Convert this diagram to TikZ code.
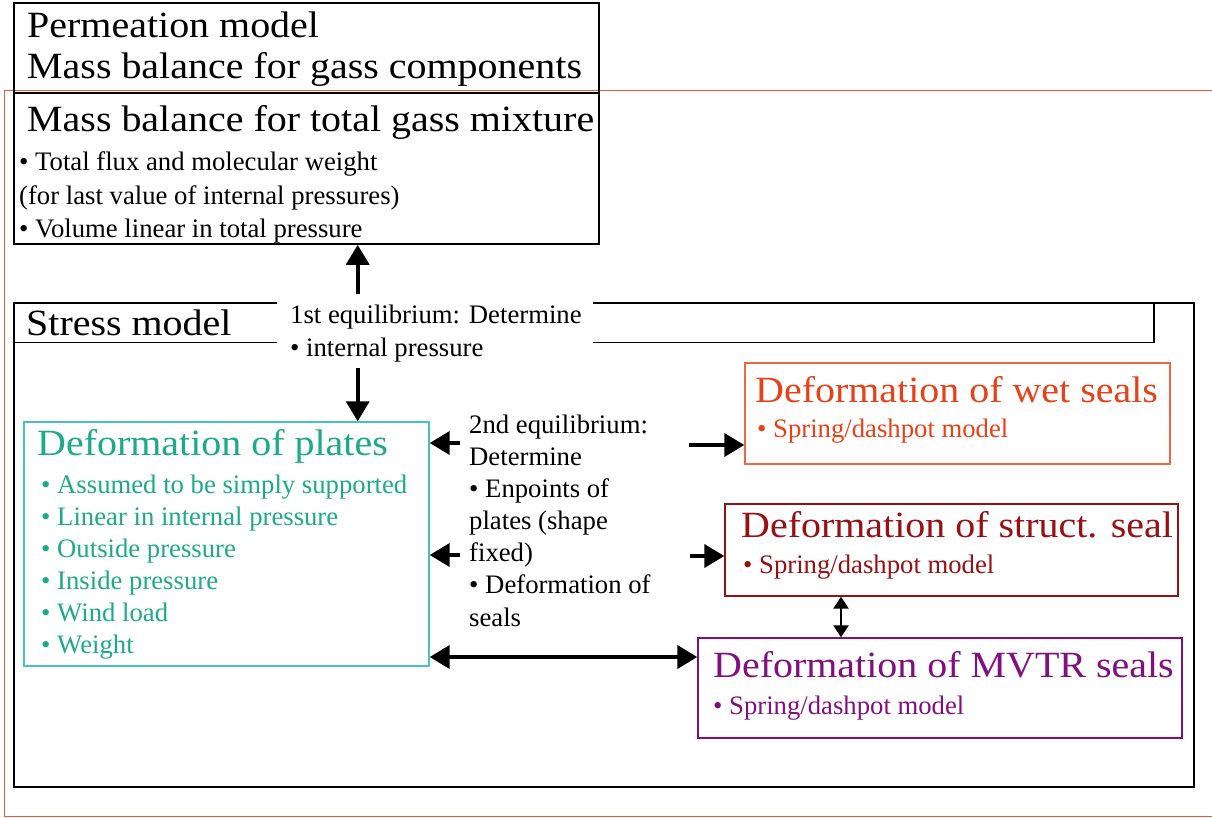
\documentclass[tikz,border=0pt]{standalone}
\usepackage{fontspec}
\setmainfont{Liberation Serif}
\newfontfamily\headfam{Liberation Serif}[FakeStretch=1.08]
\usetikzlibrary{arrows.meta,calc,fit}

\definecolor{plategreen}{RGB}{28,170,136}
\definecolor{plateedge}{RGB}{70,196,176}
\definecolor{wetred}{RGB}{232,64,24}
\definecolor{wetedge}{RGB}{236,104,64}
\definecolor{structred}{RGB}{150,16,20}
\definecolor{mvtrpurple}{RGB}{128,16,128}
\definecolor{frameorange}{RGB}{228,92,62}

\tikzset{
  panel/.style={draw, line width=1.7pt, inner sep=0pt},
  subpanel/.style={draw, line width=1.4pt, inner sep=0pt},
  headline/.style={anchor=base west, inner sep=0pt, font=\headfam\fontsize{37}{40}\selectfont},
  bodyline/.style={anchor=base west, inner sep=0pt, font=\fontsize{26.7}{32}\selectfont},
  bigarrow/.style={line width=3.8pt, -{Triangle[length=20pt,width=23pt]}},
  bothways/.style={line width=3.8pt, {Triangle[length=20pt,width=23pt]}-{Triangle[length=20pt,width=23pt]}},
  smallboth/.style={line width=2.6pt, {Triangle[length=12pt,width=15pt]}-{Triangle[length=12pt,width=15pt]}},
}

\begin{document}
\begin{tikzpicture}[x=1pt,y=-1pt]
\useasboundingbox (0,0) rectangle (1212,817);

% open orange frame around the whole model
\draw[frameorange, line width=1.4pt] (1214,90.5) -- (4.5,90.5) -- (4.5,816.2) -- (1214,816.2);

% permeation model
\node[panel, fit={(14,3) (599,244)}] (top) {};
\draw[line width=1.4pt] (top.west |- 0,93) -- (top.east |- 0,93);
\node[headline] (t1) at (27,37) {Permeation model};
\node[headline] (t2) at (27,78) {Mass balance for gass components};
\node[headline] (t3) at (27,131) {Mass balance for total gass mixture};
\node[bodyline] (t4) at (19,170) {• Total flux and molecular weight};
\node[bodyline] (t5) at (19,204) {(for last value of internal pressures)};
\node[bodyline] (t6) at (19,237) {• Volume linear in total pressure};

% stress model frame and its header strip
\node[panel, fit={(14,302.7) (1194,787.3)}] (stress) {};
\node[panel, fit={(14,302.7) (1154,342.5)}] (header) {};
\node[headline] (sm) at (26,335) {Stress model};

% first equilibrium label, cut into the header lines
\node[fill=white, inner sep=0pt, fit={(277,294) (593,368)}] (eq1) {};
\node[bodyline] (e1a) at (290,323) {1st equilibrium: Determine};
\node[bodyline] (e1b) at (290,356) {• internal pressure};

% deformation of plates
\node[subpanel, draw=plateedge, fit={(24,422) (429,666)}] (plates) {};
\node[headline, text=plategreen] (p0) at (37,455) {Deformation of plates};
\node[bodyline, text=plategreen] (p1) at (41,493) {• Assumed to be simply supported};
\node[bodyline, text=plategreen] (p2) at (41,525) {• Linear in internal pressure};
\node[bodyline, text=plategreen] (p3) at (41,557) {• Outside pressure};
\node[bodyline, text=plategreen] (p4) at (41,589) {• Inside pressure};
\node[bodyline, text=plategreen] (p5) at (41,621) {• Wind load};
\node[bodyline, text=plategreen] (p6) at (41,653) {• Weight};

% second equilibrium text
\node[bodyline] (q1) at (469,433) {2nd equilibrium:};
\node[bodyline] (q2) at (469,465) {Determine};
\node[bodyline] (q3) at (469,497) {• Enpoints of};
\node[bodyline] (q4) at (469,529) {plates (shape};
\node[bodyline] (q5) at (469,561) {fixed)};
\node[bodyline] (q6) at (469,593) {• Deformation of};
\node[bodyline] (q7) at (469,626) {seals};

% seal models
\node[subpanel, draw=wetedge, fit={(745,363) (1170,464)}] (wet) {};
\node[headline, text=wetred] (w0) at (755,402) {Deformation of wet seals};
\node[bodyline, text=wetred] (w1) at (757,437) {• Spring/dashpot model};

\node[subpanel, draw=structred, fit={(725,504) (1178,596)}] (struct) {};
\node[headline, text=structred] (s0) at (741,537) {Deformation of struct. seal};
\node[bodyline, text=structred] (s1) at (743,573) {• Spring/dashpot model};

\node[subpanel, draw=mvtrpurple, fit={(698,638) (1182,738)}] (mvtr) {};
\node[headline, text=mvtrpurple] (m0) at (713,677) {Deformation of MVTR seals};
\node[bodyline, text=mvtrpurple] (m1) at (713,714) {• Spring/dashpot model};

% connectors
\coordinate (upfoot) at (357.7,294);
\coordinate (downfoot) at (357.7,368);
\coordinate (eqA) at (460,443);
\coordinate (eqB) at (460,555);
\coordinate (eqC) at (689,445);
\coordinate (eqD) at (690,556);
\coordinate (link) at (0,657);
\coordinate (sealx) at (841,0);

\draw[bigarrow] (upfoot) -- (upfoot |- top.south);
\draw[bigarrow] (downfoot) -- (downfoot |- plates.north);
\draw[bigarrow] (eqA) -- (eqA -| plates.east);
\draw[bigarrow] (eqB) -- (eqB -| plates.east);
\draw[bigarrow] (eqC) -- (eqC -| wet.west);
\draw[bigarrow] (eqD) -- (eqD -| struct.west);
\draw[bothways] (plates.east |- link) -- (mvtr.west |- link);
\draw[smallboth] (sealx |- struct.south) -- (sealx |- mvtr.north);
\end{tikzpicture}
\end{document}
